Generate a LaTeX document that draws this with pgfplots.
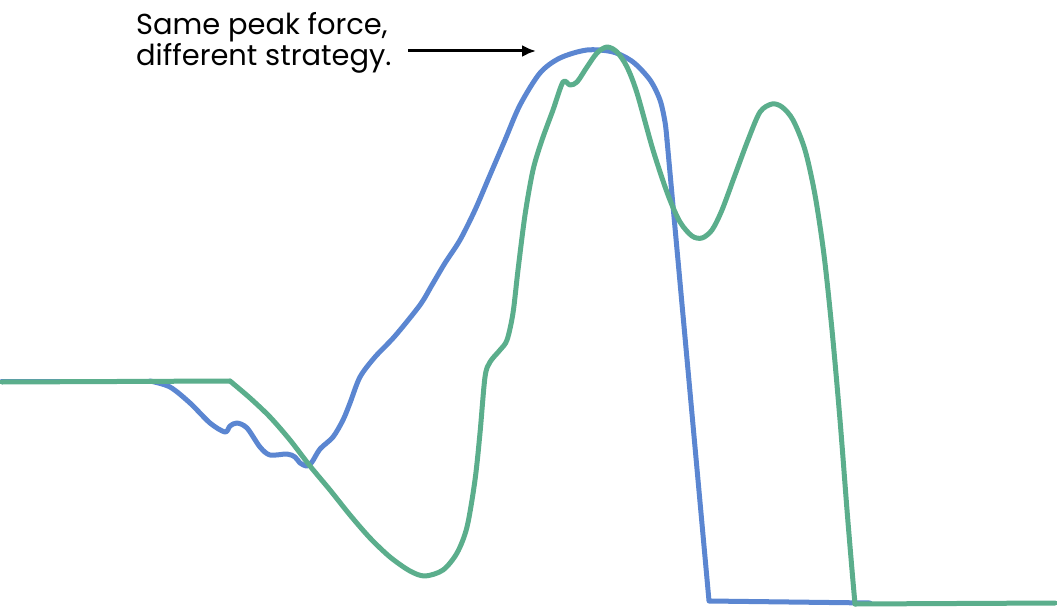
\documentclass[border=0pt]{standalone}
\usepackage{pgfplots}
\pgfplotsset{compat=1.18}
\usetikzlibrary{arrows.meta}
\usepackage{fontspec}
\setmainfont{Poppins}
\definecolor{cblue}{RGB}{91,134,209}
\definecolor{cgreen}{RGB}{91,174,140}
\begin{document}
\begin{tikzpicture}
\begin{axis}[
  scale only axis, width=1057bp, height=609bp,
  xmin=0, xmax=1057, ymin=0, ymax=609, y dir=reverse,
  hide axis, clip=false,
  every axis plot/.append style={line width=5bp, line cap=round, line join=round, no markers},
]
% blue
\addplot[cblue] coordinates {(2,381) (150,381)};
\addplot[cblue, smooth, tension=0.5] coordinates {
(150,381) (170,387) (190,403) (210,423) (225,432) (230,426) (237,423) (247,428)
(260,447) (270,455) (287,454) (295,457) (300,463) (307,466) (312,462) (320,449)
(333,437) (343,420) (350,403) (360,377) (375,357) (395,336) (420,305) (432,285)
(445,263) (460,240) (475,210) (490,175) (505,140) (520,105) (540,73) (560,58)
(587,50) (613,52) (633,62) (650,80) (660,100) (665,122) (667,140)};
\addplot[cblue] coordinates {(667,140) (688,370) (709,601) (870,603)};
% green
\addplot[cgreen] coordinates {(2,382) (230,381)};
\addplot[cgreen, smooth, tension=0.5] coordinates {
(230,381) (250,398) (270,417) (290,440) (310,466) (330,490) (350,515) (370,538)
(390,557) (410,571) (425,576) (443,570) (457,553) (467,527) (475,480) (480,433)
(485,377) (490,362) (500,350) (507,340) (513,313) (518,270) (525,215) (533,170)
(542,140) (553,110) (563,82) (570,85) (577,82) (587,67) (597,53) (607,47)
(617,52) (627,67) (637,93) (653,150) (668,195) (680,222) (692,236) (702,238)
(712,230) (722,210) (735,175) (748,140) (760,112) (772,104) (782,107) (793,120)
(805,150) (815,195) (824,255) (832,330) (840,420) (847,510) (852,570) (855,604)};
\addplot[cgreen] coordinates {(855,604) (1055,603)};
\end{axis}
\node[anchor=base west, align=left, inner sep=0pt, font=\fontsize{29}{32}\selectfont] at (136bp,609bp-66bp) {Same peak force,\\different strategy.};
\draw[line width=3bp, -{Latex[length=14bp,width=12bp]}] (408bp,609bp-51bp) -- (536bp,609bp-51bp);
\pgfresetboundingbox
\path[use as bounding box] (0,0) rectangle (1057bp,609bp);
\end{tikzpicture}
\end{document}
